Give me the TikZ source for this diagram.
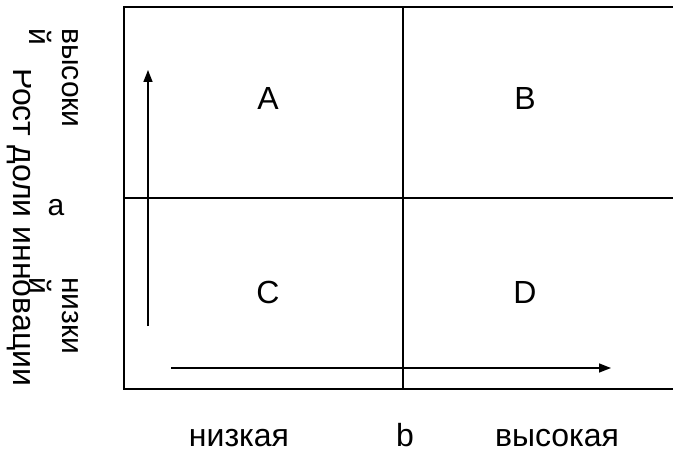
\documentclass[tikz,border=0pt]{standalone}
\usepackage{fontspec}
\setmainfont{Liberation Sans}
\usetikzlibrary{arrows.meta}
\begin{document}
\begin{tikzpicture}[x=1pt,y=-1pt,
  lbl/.style={inner sep=0pt, font=\fontsize{32}{36}\selectfont},
  blbl/.style={lbl, anchor=base, text depth=0pt},
  slbl/.style={inner sep=0pt, font=\fontsize{30}{34}\selectfont},
  vlbl/.style={slbl, rotate=-90, anchor=base west},
  frame/.style={line width=2pt},
  divider/.style={line width=1.4pt},
  axis/.style={line width=1.4pt, -{Triangle[length=12pt,width=9pt]}}]
\useasboundingbox (0,0) rectangle (673,452);
% frame
\coordinate (tl) at (124,7);
\coordinate (bl) at (124,389);
\coordinate (tr) at (674,7);
\coordinate (br) at (674,389);
\draw[frame] (tr) -- (tl) -- (bl) -- (br);
% dividers
\coordinate (vt) at (403,7);
\coordinate (vb) at (403,389);
\coordinate (hl) at (124,198);
\coordinate (hr) at (674,198);
\draw[divider] (vt) -- (vb);
\draw[divider] (hl) -- (hr);
% axes
\coordinate (vs) at (148,326);
\coordinate (ve) at (148,70);
\coordinate (hs) at (171,368);
\coordinate (he) at (611,368);
\draw[axis] (vs) -- (ve);
\draw[axis] (hs) -- (he);
% quadrant letters
\node[blbl] (qa) at (268,110) {A};
\node[blbl] (qb) at (525,110) {B};
\node[blbl] (qc) at (268,303) {C};
\node[blbl] (qd) at (525,303) {D};
% bottom labels
\node[blbl] (xlow) at (239,446) {низкая};
\node[blbl] (xname) at (405,446) {b};
\node[blbl] (xhigh) at (557,446) {высокая};
% left labels
\node[vlbl] (yhigh1) at (62,28) {высоки};
\node[vlbl] (yhigh2) at (29,28) {й};
\node[vlbl] (ylow1) at (62,277) {низки};
\node[vlbl] (ylow2) at (29,277) {й};
\node[slbl, anchor=base] (yname) at (56,215) {a};
\begin{scope}
\clip (0,0) rectangle (30,452);
\node[vlbl, font=\fontsize{32}{36}\selectfont] (ytitle) at (13,68) {Рост доли инновации};
\end{scope}
\end{tikzpicture}
\end{document}
